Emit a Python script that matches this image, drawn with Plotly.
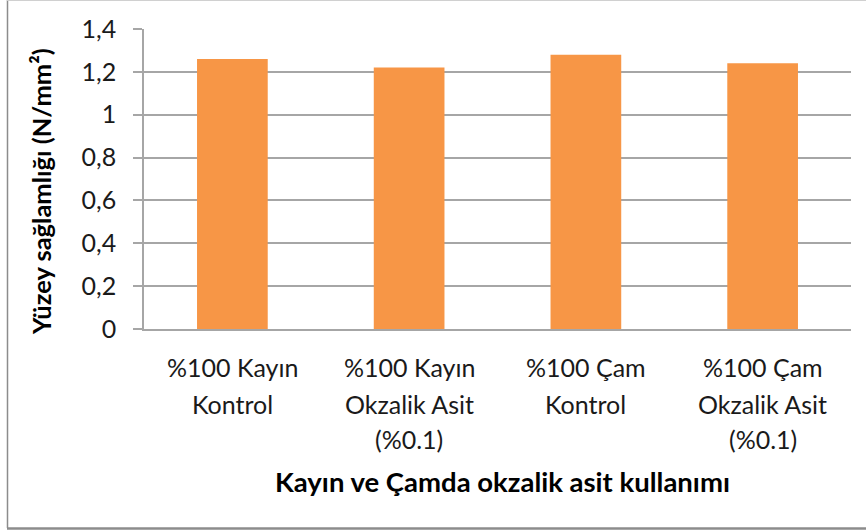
import plotly.graph_objects as go

# Surface strength by wood type and oxalic acid treatment
categories = ["%100 Kayın Kontrol", "%100 Kayın Okzalik Asit (%0.1)",
              "%100 Çam Kontrol", "%100 Çam Okzalik Asit (%0.1)"]
values = [1.26, 1.22, 1.28, 1.24]
category_lines = [
    ["%100 Kayın", "Kontrol"],
    ["%100 Kayın", "Okzalik Asit", "(%0.1)"],
    ["%100 Çam", "Kontrol"],
    ["%100 Çam", "Okzalik Asit", "(%0.1)"],
]
y_ticks = [0, 0.2, 0.4, 0.6, 0.8, 1.0, 1.2, 1.4]
y_title = "Yüzey sağlamlığı (N/mm²)"
x_title = "Kayın ve Çamda okzalik asit kullanımı"

W, H = 866, 532
L, R, T, B = 144, 15, 29, 203
PW, PH = W - L - R, H - T - B

FONT = "Lato"
BAR = "#F79646"
GRID = "#A6A6A6"
TXT = "#1a1a1a"


def px_x(p):
    return (p - L) / PW


def px_y(p):
    return (H - B - p) / PH


fig = go.Figure(go.Bar(
    x=categories, y=values,
    marker=dict(color=BAR, line=dict(width=0)),
    width=0.4,
))

annotations = []
line_offsets = [38, 74.5, 110]
for cat, lines in zip(categories, category_lines):
    for i, txt in enumerate(lines):
        annotations.append(dict(
            x=cat, xref="x", y=0, yref="paper", yanchor="middle",
            yshift=-line_offsets[i], text=txt, showarrow=False,
            font=dict(family=FONT, size=25, color=TXT),
        ))

annotations.append(dict(
    x=px_x(502), xref="paper", y=px_y(481), yref="paper",
    text=f"<b>{x_title}</b>", showarrow=False, xanchor="center", yanchor="middle",
    font=dict(family=FONT, size=27.5, color="#000000"),
))
annotations.append(dict(
    x=px_x(41), xref="paper", y=px_y(192), yref="paper",
    text=f"<b>{y_title}</b>", showarrow=False, textangle=-90,
    xanchor="center", yanchor="middle",
    font=dict(family=FONT, size=25.5, color="#000000"),
))

shapes = [
    # chart-area frame
    dict(type="line", xref="paper", yref="paper",
         x0=px_x(7.5), x1=px_x(7.5), y0=px_y(0), y1=px_y(528),
         line=dict(color="#8C8C8C", width=1.5)),
    dict(type="line", xref="paper", yref="paper",
         x0=px_x(7), x1=px_x(870), y0=px_y(528.5), y1=px_y(528.5),
         line=dict(color="#8C8C8C", width=2.5)),
    dict(type="line", xref="paper", yref="paper",
         x0=px_x(7), x1=px_x(870), y0=px_y(0.5), y1=px_y(0.5),
         line=dict(color="#D0D0D0", width=1)),
]

fig.update_layout(
    width=W, height=H,
    margin=dict(l=L, r=R, t=T, b=B),
    paper_bgcolor="white", plot_bgcolor="white",
    separators=", ",
    showlegend=False,
    bargap=0.6,
    annotations=annotations,
    shapes=shapes,
    font=dict(family=FONT, size=25, color=TXT),
)
fig.update_xaxes(
    showticklabels=False, showgrid=False, ticks="",
    showline=True, linecolor=GRID, linewidth=1.5,
    zeroline=False,
)
fig.update_yaxes(
    range=[0, 1.4], tickvals=y_ticks,
    showgrid=True, gridcolor=GRID, gridwidth=1.5,
    showline=True, linecolor=GRID, linewidth=1.5,
    ticks="outside", ticklen=9, tickcolor=GRID, tickwidth=1.5,
    ticklabelstandoff=12,
    tickfont=dict(family=FONT, size=25, color=TXT),
    zeroline=False,
)

fig.write_html("out.html")
